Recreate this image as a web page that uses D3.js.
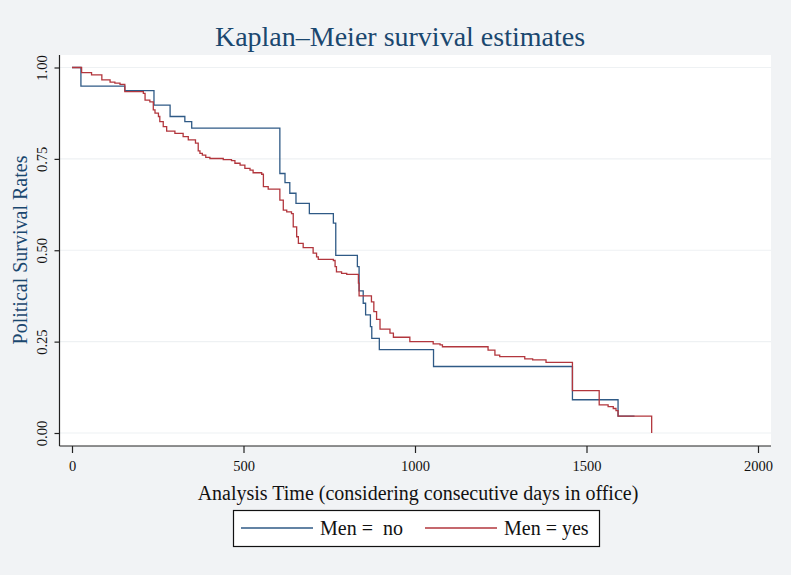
<!DOCTYPE html>
<html>
<head>
<meta charset="utf-8">
<script src="https://cdn.jsdelivr.net/npm/d3@7"></script>
<style>
  html, body { margin: 0; padding: 0; background: #f1f3f5; }
  svg { display: block; font-family: "Liberation Serif", "Times New Roman", serif; }
</style>
</head>
<body>
<div id="chart"></div>
<script>
// Kaplan-Meier step values
const menNoTime = [0, 26, 154, 239, 286, 329, 349, 606, 621, 635, 653, 692, 762, 769, 832, 837, 849, 856, 870, 874, 896, 1054, 1459, 1592, 1640];
const menNoSurv = [1.0, 0.949, 0.937, 0.897, 0.866, 0.852, 0.834, 0.710, 0.685, 0.656, 0.628, 0.600, 0.574, 0.486, 0.455, 0.389, 0.355, 0.323, 0.291, 0.259, 0.228, 0.182, 0.091, 0.046, 0.046];

const menYesTime = [0, 28, 57, 87, 111, 125, 140, 154, 208, 213, 227, 237, 242, 252, 256, 266, 276, 300, 324, 339, 360, 368, 373, 380, 390, 402, 441, 465, 475, 490, 504, 519, 528, 553, 558, 572, 606, 616, 626, 640, 645, 655, 660, 674, 703, 713, 718, 762, 767, 771, 786, 801, 835, 837, 873, 880, 888, 898, 927, 937, 985, 1053, 1073, 1080, 1213, 1233, 1247, 1320, 1343, 1382, 1459, 1537, 1563, 1578, 1586, 1592, 1690];
const menYesSurv = [1.0, 0.986, 0.980, 0.966, 0.960, 0.957, 0.954, 0.934, 0.929, 0.911, 0.906, 0.884, 0.875, 0.866, 0.852, 0.838, 0.826, 0.820, 0.811, 0.802, 0.793, 0.772, 0.765, 0.760, 0.754, 0.751, 0.748, 0.745, 0.738, 0.733, 0.724, 0.719, 0.712, 0.708, 0.674, 0.667, 0.637, 0.610, 0.605, 0.600, 0.564, 0.537, 0.519, 0.507, 0.492, 0.482, 0.475, 0.472, 0.455, 0.441, 0.437, 0.434, 0.410, 0.375, 0.359, 0.332, 0.311, 0.284, 0.273, 0.262, 0.250, 0.244, 0.241, 0.236, 0.227, 0.213, 0.209, 0.203, 0.200, 0.193, 0.116, 0.077, 0.072, 0.067, 0.061, 0.046, 0.0];

const xTicks = [0, 500, 1000, 1500, 2000];
const yTicks = [0, 0.25, 0.5, 0.75, 1];
const legendLabels = ["Men =  no", "Men = yes"];

const W = 791, H = 575;
const navy = "#1a476f";
const blue = "#2f5a86";
const red = "#b2363d";

const svg = d3.select("#chart").append("svg")
    .attr("width", W)
    .attr("height", H);

svg.append("rect").attr("width", W).attr("height", H).attr("fill", "#f1f3f5");

// plot region
const plot = { left: 59.5, right: 771, top: 55, bottom: 446 };
svg.append("rect")
    .attr("x", plot.left).attr("y", plot.top)
    .attr("width", plot.right - plot.left).attr("height", plot.bottom - plot.top)
    .attr("fill", "#ffffff");

const x = d3.scaleLinear().domain([0, 2000]).range([72, 758]);
const y = d3.scaleLinear().domain([0, 1]).range([433, 67.5]);

// faint grid
svg.append("g").selectAll("line")
    .data(yTicks)
    .enter().append("line")
    .attr("x1", plot.left).attr("x2", plot.right)
    .attr("y1", d => y(d)).attr("y2", d => y(d))
    .attr("stroke", "#eef1f3")
    .attr("stroke-width", 1.2);

// step curves
const line = d3.line()
    .x(d => x(d[0]))
    .y(d => y(d[1]))
    .curve(d3.curveStepAfter);

const series = [
    { t: menNoTime, s: menNoSurv, color: blue },
    { t: menYesTime, s: menYesSurv, color: red }
];

series.forEach(sr => {
    svg.append("path")
        .datum(sr.t.map((t, i) => [t, sr.s[i]]))
        .attr("fill", "none")
        .attr("stroke", sr.color)
        .attr("stroke-width", 1.3)
        .attr("d", line);
});

// axes
const xAxis = svg.append("g")
    .attr("transform", `translate(0,${plot.bottom})`)
    .call(d3.axisBottom(x).tickValues(xTicks).tickFormat(d3.format("d")).tickSize(7).tickPadding(8).tickSizeOuter(0));
xAxis.select(".domain").attr("d", `M${plot.left},0H${plot.right}`);

const yAxis = svg.append("g")
    .attr("transform", `translate(${plot.left},0)`)
    .call(d3.axisLeft(y).tickValues(yTicks).tickFormat(d3.format(".2f")).tickSize(5).tickSizeOuter(0));
yAxis.select(".domain").attr("d", `M0,${plot.top}V${plot.bottom}`);

[xAxis, yAxis].forEach(a => {
    a.attr("font-family", null).attr("font-size", null);
    a.select(".domain").attr("stroke", "#222").attr("stroke-width", 1.2);
    a.selectAll(".tick line").attr("stroke", "#222").attr("stroke-width", 1.2);
    a.selectAll("text")
        .attr("font-family", "Liberation Serif, serif")
        .attr("font-size", 14.5)
        .attr("fill", "#111");
});

yAxis.selectAll(".tick text")
    .attr("x", 0).attr("dy", 0)
    .attr("text-anchor", "middle")
    .attr("transform", "translate(-13,0) rotate(-90)");

// titles
svg.append("text")
    .attr("x", 400).attr("y", 46)
    .attr("text-anchor", "middle")
    .attr("font-size", 28)
    .attr("fill", navy)
    .text("Kaplan–Meier survival estimates");

svg.append("text")
    .attr("transform", "translate(27,250) rotate(-90)")
    .attr("text-anchor", "middle")
    .attr("font-size", 20)
    .attr("fill", navy)
    .text("Political Survival Rates");

svg.append("text")
    .attr("x", 418).attr("y", 500)
    .attr("text-anchor", "middle")
    .attr("font-size", 20)
    .attr("fill", "#111")
    .text("Analysis Time (considering consecutive days in office)");

// legend
const legend = svg.append("g");
legend.append("rect")
    .attr("x", 233.5).attr("y", 510.5)
    .attr("width", 366).attr("height", 36)
    .attr("fill", "#fff")
    .attr("stroke", "#111")
    .attr("stroke-width", 1.2);

const legendX = [241, 425];
legendLabels.forEach((lab, i) => {
    legend.append("line")
        .attr("x1", legendX[i]).attr("x2", legendX[i] + 72)
        .attr("y1", 528).attr("y2", 528)
        .attr("stroke", series[i].color)
        .attr("stroke-width", 1.3);
    legend.append("text")
        .attr("x", legendX[i] + 79).attr("y", 535)
        .attr("font-size", 20)
        .attr("fill", "#111")
        .attr("xml:space", "preserve")
        .style("white-space", "pre")
        .text(lab);
});
</script>
</body>
</html>
